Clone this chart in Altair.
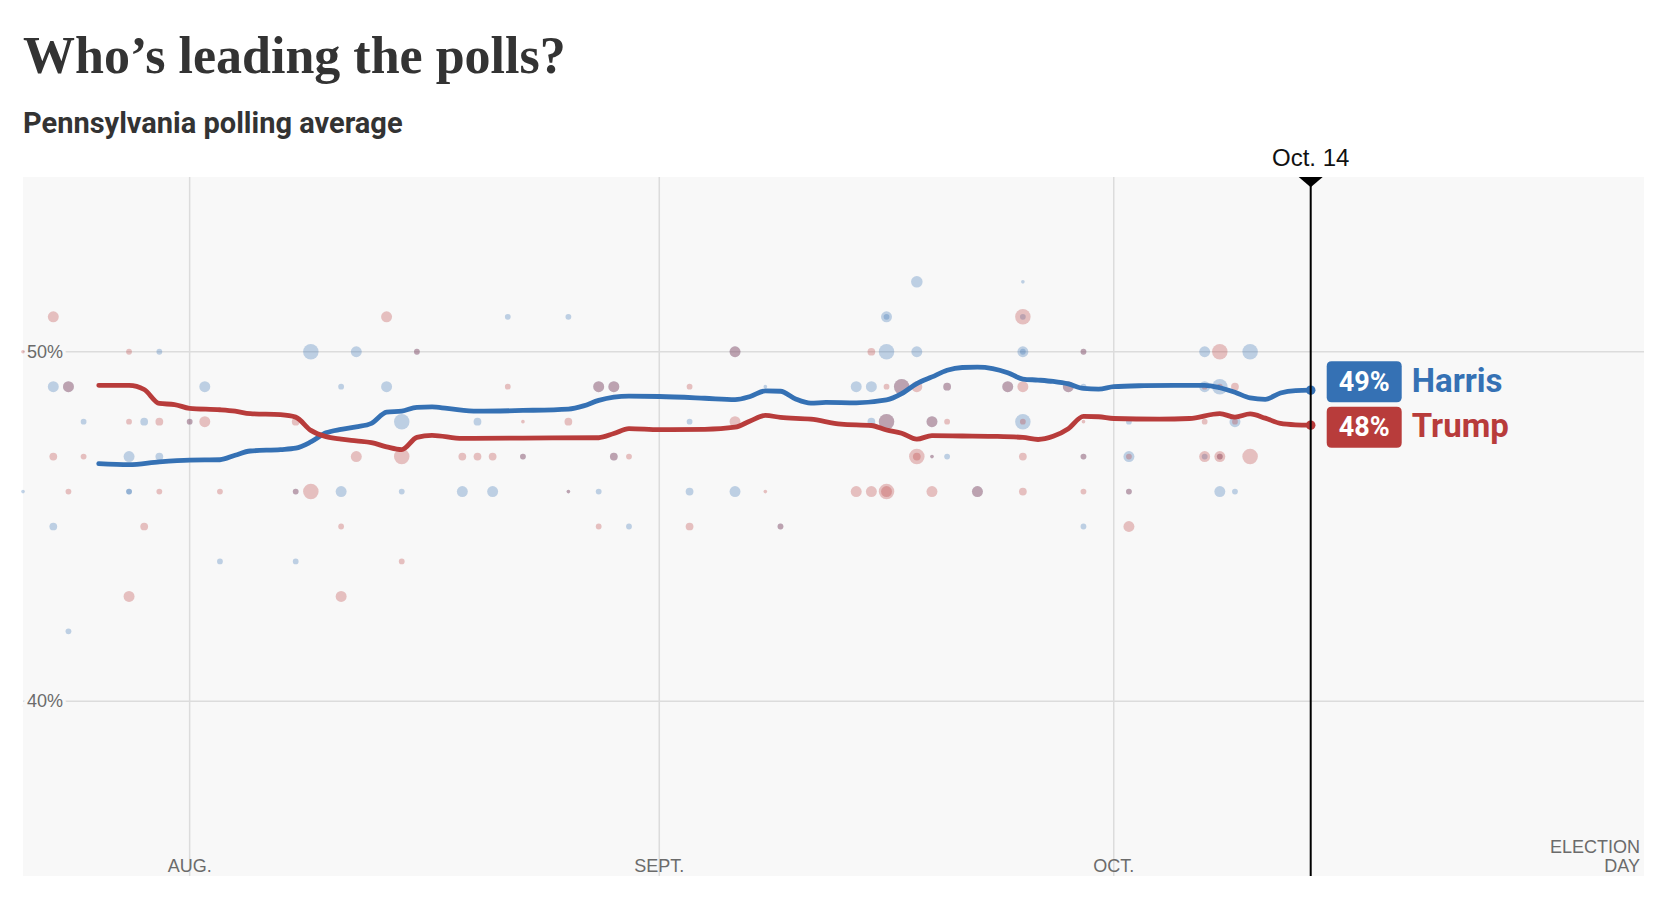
import altair as alt
import pandas as pd

YEAR = "2024-"

# ---------------- data ----------------
candidates = ["Harris", "Trump"]
cand_colors = ["#3571b4", "#b83c3b"]

harris_line_dates = ["07-26", "07-28", "07-30", "08-01", "08-03", "08-04", "08-05", "08-07", "08-08",
                     "08-09", "08-10", "08-11", "08-12", "08-13", "08-14", "08-15", "08-16", "08-17",
                     "08-18", "08-20", "08-23", "08-26", "08-27", "08-28", "08-30", "09-01", "09-04",
                     "09-06", "09-07", "09-08", "09-09", "09-10", "09-11", "09-12", "09-14", "09-16",
                     "09-17", "09-18", "09-19", "09-20", "09-21", "09-22", "09-23", "09-24", "09-25",
                     "09-26", "09-27", "09-28", "09-29", "09-30", "10-01", "10-03", "10-05", "10-07",
                     "10-08", "10-09", "10-10", "10-11", "10-12", "10-13", "10-14"]
harris_line_vals = [46.80, 46.77, 46.85, 46.90, 46.91, 47.04, 47.16, 47.20, 47.24,
                    47.42, 47.68, 47.78, 47.85, 47.95, 48.27, 48.30, 48.41, 48.42,
                    48.38, 48.30, 48.32, 48.36, 48.45, 48.61, 48.73, 48.72, 48.67,
                    48.63, 48.72, 48.88, 48.87, 48.65, 48.53, 48.55, 48.54, 48.62,
                    48.80, 49.09, 49.28, 49.47, 49.55, 49.56, 49.52, 49.40, 49.22,
                    49.19, 49.15, 49.08, 48.95, 48.93, 49.00, 49.03, 49.04, 49.04,
                    48.97, 48.84, 48.68, 48.64, 48.82, 48.89, 48.90]

trump_line_dates = ["07-26", "07-28", "07-29", "07-30", "07-31", "08-01", "08-03", "08-04", "08-05",
                    "08-07", "08-08", "08-09", "08-10", "08-11", "08-12", "08-13", "08-14", "08-15",
                    "08-16", "08-17", "08-19", "08-23", "08-28", "08-29", "08-30", "09-01", "09-04",
                    "09-06", "09-07", "09-08", "09-09", "09-11", "09-13", "09-15", "09-16", "09-17",
                    "09-18", "09-19", "09-21", "09-23", "09-25", "09-26", "09-27", "09-28", "09-29",
                    "09-30", "10-01", "10-04", "10-06", "10-08", "10-09", "10-10", "10-11", "10-12",
                    "10-13", "10-14"]
trump_line_vals = [49.04, 49.04, 48.92, 48.52, 48.49, 48.38, 48.34, 48.30, 48.23,
                   48.20, 48.13, 47.75, 47.57, 47.50, 47.45, 47.40, 47.28, 47.20,
                   47.55, 47.61, 47.52, 47.53, 47.54, 47.66, 47.80, 47.77, 47.78,
                   47.84, 48.02, 48.18, 48.12, 48.07, 47.93, 47.89, 47.76, 47.67,
                   47.50, 47.60, 47.59, 47.58, 47.55, 47.49, 47.58, 47.80, 48.15,
                   48.14, 48.09, 48.07, 48.09, 48.23, 48.13, 48.22, 48.10, 47.95,
                   47.91, 47.90]

# individual polls (date, share, sample size)
harris_poll_dates = ["07-21", "07-23", "07-24", "07-23", "07-24", "07-25", "07-28", "07-28", "07-28",
                     "07-29", "07-30", "07-30", "08-01", "08-02", "08-03", "08-08", "08-08", "08-09",
                     "08-11", "08-11", "08-12", "08-14", "08-15", "08-15", "08-16", "08-19", "08-20",
                     "08-21", "08-22", "08-23", "08-26", "08-26", "08-28", "08-28", "08-29", "08-29",
                     "08-30", "09-03", "09-03", "09-06", "09-06", "09-08", "09-09", "09-14", "09-15",
                     "09-15", "09-16", "09-16", "09-16", "09-16", "09-17", "09-18", "09-18", "09-19",
                     "09-19", "09-20", "09-20", "09-22", "09-24", "09-25", "09-25", "09-25", "09-25",
                     "09-25", "09-28", "09-29", "09-29", "09-29", "09-29", "10-02", "10-02", "10-02",
                     "10-07", "10-07", "10-07", "10-08", "10-08", "10-08", "10-09", "10-09", "10-10"]
harris_poll_pcts = [46, 49, 49, 45, 42, 48, 47, 46, 46,
                    48, 50, 47, 48, 49, 44, 46, 44, 50,
                    49, 46, 50, 49, 48, 46, 50, 46, 48,
                    46, 51, 47, 51, 46, 49, 46, 49, 47,
                    45, 48, 46, 50, 46, 49, 45, 49, 49,
                    48, 51, 51, 50, 48, 49, 52, 50, 48,
                    47, 49, 47, 46, 49, 52, 51, 50, 50,
                    48, 49, 50, 49, 47, 45, 48, 47, 46,
                    50, 49, 47, 49, 47, 46, 48, 46, 50]
harris_poll_n = [100, 900, 900, 450, 250, 250, 900, 250, 250,
                 450, 250, 450, 250, 900, 250, 250, 250, 1800,
                 250, 900, 900, 900, 1800, 250, 250, 900, 450,
                 900, 250, 250, 250, 100, 900, 250, 900, 450,
                 250, 250, 450, 900, 900, 100, 250, 900, 900,
                 450, 900, 250, 1800, 1800, 1800, 1000, 900, 900,
                 100, 450, 250, 900, 900, 100, 250, 900, 250,
                 1800, 900, 250, 250, 250, 250, 250, 900, 250,
                 900, 900, 250, 1800, 250, 900, 900, 250, 1800]

trump_poll_dates = ["07-21", "07-23", "07-24", "07-23", "07-24", "07-25", "07-28", "07-28", "07-28",
                    "07-29", "07-30", "07-30", "08-01", "08-02", "08-03", "08-08", "08-08", "08-09",
                    "08-11", "08-11", "08-12", "08-14", "08-15", "08-15", "08-16", "08-19", "08-20",
                    "08-21", "08-22", "08-23", "08-23", "08-26", "08-26", "08-28", "08-28", "08-29",
                    "08-29", "08-30", "09-03", "09-03", "09-06", "09-06", "09-08", "09-09", "09-14",
                    "09-15", "09-15", "09-16", "09-16", "09-16", "09-16", "09-17", "09-18", "09-18",
                    "09-18", "09-19", "09-19", "09-19", "09-20", "09-20", "09-22", "09-24", "09-25",
                    "09-25", "09-25", "09-25", "09-25", "09-28", "09-29", "09-29", "09-29", "09-29",
                    "10-02", "10-02", "10-02", "10-07", "10-07", "10-07", "10-08", "10-08", "10-08",
                    "10-08", "10-09", "10-09", "10-10"]
trump_poll_pcts = [50, 51, 49, 47, 46, 47, 50, 48, 43,
                   45, 48, 46, 48, 48, 46, 48, 46, 46,
                   45, 43, 47, 51, 47, 44, 50, 47, 47,
                   47, 49, 48, 47, 48, 46, 49, 45, 49,
                   47, 47, 49, 45, 50, 48, 46, 45, 46,
                   50, 46, 49, 48, 46, 46, 49, 49, 47,
                   47, 48, 47, 46, 49, 48, 46, 49, 51,
                   49, 48, 47, 46, 49, 50, 48, 47, 46,
                   47, 46, 45, 49, 48, 47, 50, 49, 47,
                   47, 49, 48, 47]
trump_poll_n = [100, 900, 900, 450, 250, 250, 250, 250, 900,
                450, 450, 250, 250, 900, 250, 450, 250, 1800,
                250, 900, 900, 900, 1800, 250, 250, 450, 450,
                450, 250, 100, 250, 450, 100, 900, 250, 900,
                450, 250, 250, 450, 900, 900, 100, 250, 900,
                450, 900, 250, 1800, 1800, 900, 1800, 900, 1800,
                450, 900, 100, 900, 450, 250, 900, 900, 1800,
                900, 250, 450, 450, 900, 250, 100, 250, 250,
                250, 250, 900, 250, 250, 900, 1800, 250, 900,
                250, 450, 250, 1800]

month_dates = ["08-01", "09-01", "10-01"]
month_labels = ["AUG.", "SEPT.", "OCT."]
y_ticks = [40, 50]
y_tick_labels = ["40%", "50%"]
domain_start = "07-21"
election_day = "11-05"
election_label = "ELECTION\nDAY"
today = "10-14"
today_label = "Oct. 14"
latest_vals = [48.9, 47.9]
latest_labels = ["49%", "48%"]

# ---------------- tables ----------------
def full(ds):
    return [YEAR + d for d in ds]

lines = pd.concat([
    pd.DataFrame({"date": full(harris_line_dates), "pct": harris_line_vals, "cand": "Harris"}),
    pd.DataFrame({"date": full(trump_line_dates), "pct": trump_line_vals, "cand": "Trump"}),
])
polls = pd.concat([
    pd.DataFrame({"date": full(harris_poll_dates), "pct": harris_poll_pcts, "n": harris_poll_n, "cand": "Harris"}),
    pd.DataFrame({"date": full(trump_poll_dates), "pct": trump_poll_pcts, "n": trump_poll_n, "cand": "Trump"}),
])
ends = pd.DataFrame({"date": YEAR + today, "pct": latest_vals, "cand": candidates, "label": latest_labels})
months = pd.DataFrame({"date": full(month_dates), "label": month_labels})
yt = pd.DataFrame({"pct": y_ticks, "label": y_tick_labels, "date": YEAR + domain_start})
elec = pd.DataFrame({"date": [YEAR + election_day], "label": [election_label]})
today_df = pd.DataFrame({"date": [YEAR + today], "label": [today_label], "top": [55]})

xscale = alt.Scale(type="utc", domain=[alt.DateTime(year=2024, month=7, date=21, utc=True),
                                       alt.DateTime(year=2024, month=11, date=5, utc=True)])
yscale = alt.Scale(domain=[35, 55], nice=False, zero=False)
cscale = alt.Scale(domain=candidates, range=cand_colors)

X = alt.X("date:T", scale=xscale, axis=None)
Y = alt.Y("pct:Q", scale=yscale, axis=None)
C = alt.Color("cand:N", scale=cscale, legend=None)

GRID = "#dcdcdc"
LABEL_GREY = "#6b6b6b"
SANS = "Liberation Sans, Arial, sans-serif"
BG = "#f8f8f8"

vgrid = alt.Chart(months).mark_rule(color=GRID, strokeWidth=1.5).encode(x=X)
hgrid = alt.Chart(yt).mark_rule(color=GRID, strokeWidth=1.5).encode(y=Y)

xlab = alt.Chart(months).mark_text(font=SANS, fontSize=18, color=LABEL_GREY, align="center",
                                   baseline="alphabetic", dy=-4).encode(
    x=X, y=alt.Y("bottom:Q", scale=yscale, axis=None), text="label:N"
).transform_calculate(bottom="35")

elab = alt.Chart(elec).mark_text(font=SANS, fontSize=18, color=LABEL_GREY, align="right",
                                 baseline="bottom", lineBreak="\n", lineHeight=19, dx=-4, dy=-19).encode(
    x=X, y=alt.Y("bottom:Q", scale=yscale, axis=None), text="label:N"
).transform_calculate(bottom="35")

ylab_halo = alt.Chart(yt).mark_text(font=SANS, fontSize=18, color=BG, stroke=BG,
                                    strokeWidth=7, align="left", baseline="alphabetic", dx=4, dy=6).encode(
    x=X, y=Y, text="label:N")
ylab = alt.Chart(yt).mark_text(font=SANS, fontSize=18, color=LABEL_GREY, align="left",
                               baseline="alphabetic", dx=4, dy=6).encode(x=X, y=Y, text="label:N")

dots = alt.Chart(polls).mark_circle(opacity=0.3).encode(
    x=X, y=Y, color=C,
    size=alt.Size("n:Q", scale=alt.Scale(domain=[0, 1800], range=[0, 240]), legend=None),
)

trend = alt.Chart(lines).mark_line(interpolate="monotone", strokeWidth=4.8, strokeCap="round",
                                   strokeJoin="round").encode(x=X, y=Y, color=C, detail="cand:N")

end_dots = alt.Chart(ends).mark_circle(size=90, opacity=1).encode(x=X, y=Y, color=C)

today_rule = alt.Chart(today_df).mark_rule(color="black", strokeWidth=2).encode(x=X)
tri = alt.Chart(today_df).mark_point(shape="M-1,0L1,0L0,0.85Z", size=576, filled=True,
                                     color="black", opacity=1, strokeWidth=0).encode(
    x=X, y=alt.Y("top:Q", scale=yscale, axis=None))
today_text = alt.Chart(today_df).mark_text(font=SANS, fontSize=24, color="#111", align="center",
                                           baseline="alphabetic", dy=-11).encode(
    x=X, y=alt.Y("top:Q", scale=yscale, axis=None), text="label:N")

BOX = ("M-0.867,-0.547L0.867,-0.547Q1,-0.547 1,-0.413L1,0.413Q1,0.547 0.867,0.547"
       "L-0.867,0.547Q-1,0.547 -1,0.413L-1,-0.413Q-1,-0.547 -0.867,-0.547Z")

label_layers = []
for cand, yoff in zip(candidates, [-8.5, 2]):
    src = alt.Chart(ends).transform_filter(alt.datum.cand == cand)
    label_layers.append(src.mark_point(shape=BOX, size=5625, filled=True, opacity=1, strokeWidth=0,
                                       xOffset=53.5, yOffset=yoff).encode(x=X, y=Y, color=C))
    label_layers.append(src.mark_text(font="Roboto, Liberation Sans, sans-serif", fontSize=27,
                                      fontWeight="bold", color="white", align="center",
                                      baseline="middle", xOffset=53.5, yOffset=yoff + 1).encode(
        x=X, y=Y, text="label:N"))
    label_layers.append(src.mark_text(font="Roboto, Liberation Sans, sans-serif", fontSize=33,
                                      fontWeight="bold", align="left", baseline="middle",
                                      xOffset=101, yOffset=yoff).encode(x=X, y=Y, text="cand:N", color=C))

chart = alt.layer(
    vgrid, hgrid, xlab, elab, ylab_halo, ylab, dots, trend, end_dots,
    today_rule, tri, today_text, *label_layers
).properties(
    width=1621, height=699,
    background="white",
    autosize=alt.AutoSizeParams(type="none"),
    padding={"left": 23, "top": 177, "right": 24, "bottom": 21},
    title=alt.TitleParams(
        text="Who\u2019s leading the polls?",
        subtitle="Pennsylvania polling average",
        anchor="start", frame="group", orient="top",
        font="Liberation Serif, DejaVu Serif, serif", fontSize=52, fontWeight="bold", color="#333333",
        subtitleFont="Roboto, Liberation Sans, sans-serif", subtitleFontSize=29,
        subtitleFontWeight="bold", subtitleColor="#333333", subtitlePadding=26, offset=7,
    ),
).configure_view(fill=BG, strokeWidth=0)

chart.save("out.html", embed_options={"renderer": "svg", "actions": False})
